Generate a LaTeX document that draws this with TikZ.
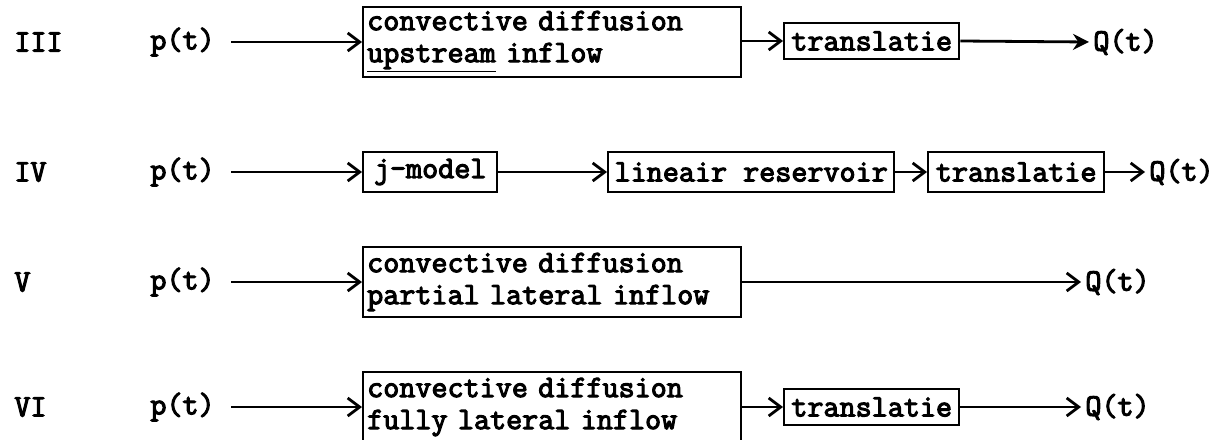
\documentclass[tikz,border=0pt]{standalone}
\usepackage{fontspec}
\usetikzlibrary{arrows.meta}
\newfontfamily\tw[FakeBold=3.5]{Latin Modern Mono}
\begin{document}
\begin{tikzpicture}[x=0.5pt,y=-0.5pt,
  every node/.style={font=\tw\fontsize{15.6}{16}\selectfont},
  lbl/.style={anchor=west, inner sep=0pt},
  src/.style={anchor=west, inner xsep=8pt, inner ysep=0pt},
  dst/.style={anchor=west, inner xsep=2pt, inner ysep=0pt},
  blk/.style={draw, line width=1.2pt, anchor=west, inner xsep=2pt, inner ysep=0pt},
  wide/.style={blk, align=left, text width=185pt, minimum height=35pt},
  flow/.style={line width=1.4pt, -{Straight Barb[length=6pt,width=9pt]}},
  flowf/.style={line width=1.4pt, -{Stealth[length=8pt,width=8pt]}},
]
\useasboundingbox (0,0) rectangle (1231,439);
\clip (0,0) rectangle (1231,439);

% row III
\node[lbl] (l3) at (14,42) {III};
\node[src] (p3) at (134,42) {p(t)};
\node[wide] (c3) at (362,42) {convective diffusion\\\underline{upstream} inflow};
\node[blk, minimum width=87.5pt, minimum height=18pt] (t3) at (783,41) {translatie};
\node[dst] (q3) at (1089,42) {Q(t)};
\draw[flow] (p3.east) -- (c3.west);
\draw[flow] (c3.east |- t3.west) -- (t3.west);
\draw[flowf] (t3.east) -- (q3.west);

% row IV
\node[lbl] (l4) at (14,172) {IV};
\node[src] (p4) at (134,172) {p(t)};
\node[blk, minimum width=67pt, minimum height=20pt] (j4) at (362,172) {j-model};
\node[blk, minimum width=143pt, minimum height=20pt] (r4) at (607,172) {lineair reservoir};
\node[blk, minimum width=88pt, minimum height=20pt] (t4) at (927,172) {translatie};
\node[dst] (q4) at (1145,172) {Q(t)};
\draw[flow] (p4.east) -- (j4.west);
\draw[flow] (j4.east) -- (r4.west);
\draw[flow] (r4.east) -- (t4.west);
\draw[flow] (t4.east) -- (q4.west);

% row V
\node[lbl] (l5) at (14,282) {V};
\node[src] (p5) at (134,282) {p(t)};
\node[wide] (c5) at (362,282) {convective diffusion\\partial lateral inflow};
\node[dst] (q5) at (1081,282) {Q(t)};
\draw[flow] (p5.east) -- (c5.west);
\draw[flow] (c5.east) -- (q5.west);

% row VI
\node[lbl] (l6) at (14,407) {VI};
\node[src] (p6) at (134,407) {p(t)};
\node[wide] (c6) at (362,407) {convective diffusion\\fully lateral inflow};
\node[blk, minimum width=87.5pt, minimum height=18pt] (t6) at (783,407) {translatie};
\node[dst] (q6) at (1081,407) {Q(t)};
\draw[flow] (p6.east) -- (c6.west);
\draw[flow] (c6.east) -- (t6.west);
\draw[flow] (t6.east) -- (q6.west);
\end{tikzpicture}
\end{document}
